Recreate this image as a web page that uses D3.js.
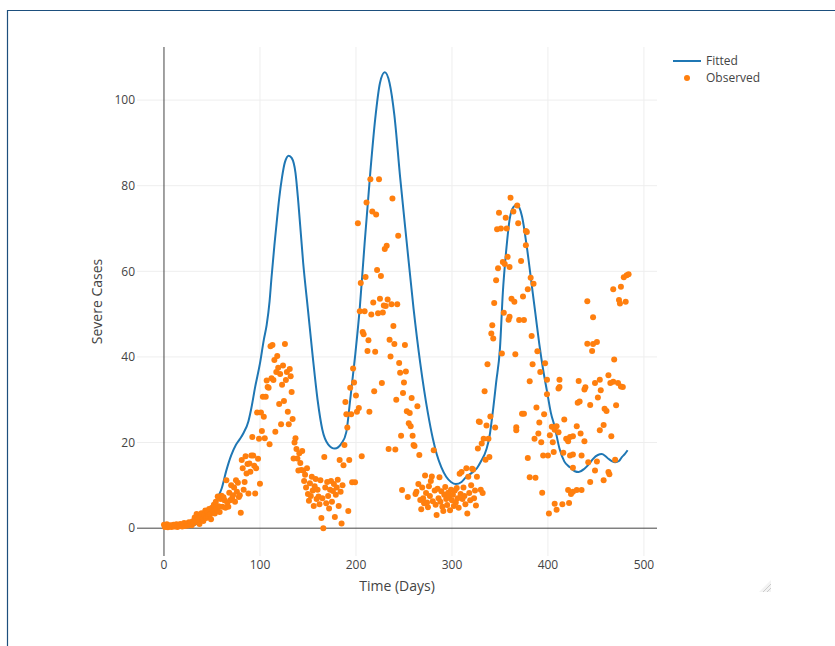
<!DOCTYPE html>
<html>
<head>
<meta charset="utf-8">
<script src="https://cdn.jsdelivr.net/npm/d3@7"></script>
<style>
    body { margin: 0; background: #fff; }
    svg text { font-family: "Open Sans", verdana, arial, sans-serif; fill: #444; }
</style>
</head>
<body>
<svg id="chart" width="835" height="646"></svg>
<script>
// fitted model curve (day, severe cases)
const fittedDays = [0, 10, 20, 30, 35, 41, 46, 51, 56, 60, 65, 70, 75, 79, 83, 88, 91, 95, 100, 104,
    107, 110, 112, 115, 117, 120, 123, 126, 130, 133, 137, 140, 145, 150, 155, 160, 165, 171, 178, 185,
    190, 194, 199, 204, 209, 215, 220, 225, 230, 235, 240, 246, 253, 260, 267, 275, 280, 284,
    289, 294, 299, 304, 310, 315, 320, 326, 330, 336, 339, 343, 346, 350, 353, 357, 360, 364, 368, 370,
    373, 378, 383, 387, 391, 395, 399, 403, 407, 412, 417, 423, 428, 432, 438, 443, 447, 452, 456, 460,
    463, 467, 470, 474, 477, 480, 483];
const fittedCases = [0.2, 0.3, 0.4, 0.6, 1.2, 2.6, 3.9, 5.4, 7.2, 9.2, 13.5, 17, 19.5, 20.8, 22.3, 25, 28, 33, 38.5, 44,
    47.5, 53, 58.5, 66, 70.5, 77, 82, 85.5, 87, 86.5, 83, 76, 62, 51, 40, 30, 23, 19.6, 18.6, 19.8,
    22.5, 30, 40, 51.5, 66.5, 83.3, 95.5, 104, 106.5, 104, 96.5, 82, 66.5, 51.3, 38.5, 26.8, 21, 17.4,
    14.2, 12, 10.8, 10.3, 10.8, 12, 12.8, 14, 15.5, 18.5, 21.3, 28, 34, 42, 55, 66, 72, 75, 75.6, 75,
    72.8, 65.7, 57, 50, 43, 37, 32, 27, 23.7, 18.6, 15.6, 14.2, 13.3, 13.1, 13.9, 15, 16.2, 17.1, 17.3, 16.8,
    16.2, 15.6, 15.4, 15.7, 16.6, 17.3, 18.2];

// observed data points (day, severe cases)
const obsDays = [
    0, 1, 2, 3, 4, 5, 6, 7, 8, 9, 10, 11, 12, 13, 14, 15, 16, 17, 18, 19,
    20, 21, 22, 23, 24, 25, 26, 27, 28, 29, 30, 31, 32, 33, 34, 35, 36, 37, 38, 39,
    40, 41, 42, 43, 44, 45, 46, 47, 48, 49, 50, 51, 52, 53, 54, 55, 56, 57, 58, 59,
    60, 61, 62, 63, 64, 65, 66, 67, 68, 69, 70, 71, 72, 73, 74, 75, 76, 77, 78, 79,
    80, 81, 82, 83, 84, 85, 86, 87, 88, 89, 90, 91, 92, 93, 94, 95, 96, 97, 98, 99,
    100, 101, 102, 103, 104, 105, 106, 107, 108, 109, 110, 111, 112, 113, 114, 115, 116, 117, 118, 119,
    120, 121, 122, 123, 124, 125, 126, 127, 128, 129, 130, 131, 132, 133, 134, 135, 136, 137, 138, 139,
    140, 141, 142, 143, 144, 145, 146, 147, 148, 149, 150, 151, 152, 153, 154, 155, 156, 157, 158, 159,
    160, 161, 162, 163, 164, 165, 166, 167, 168, 169, 170, 171, 172, 173, 174, 175, 176, 177, 178, 179,
    180, 181, 182, 183, 184, 185, 186, 187, 188, 189, 190, 191, 192, 193, 194, 195, 196, 197, 198, 199,
    200, 201, 202, 203, 204, 205, 206, 207, 208, 209, 210, 211, 212, 213, 214, 215, 216, 217, 218, 219,
    220, 221, 222, 223, 224, 225, 226, 227, 228, 229, 230, 231, 232, 233, 234, 235, 236, 237, 238, 239,
    240, 241, 242, 243, 244, 245, 246, 247, 248, 249, 250, 251, 252, 253, 254, 255, 256, 257, 258, 259,
    260, 261, 262, 263, 264, 265, 266, 267, 268, 269, 270, 271, 272, 273, 274, 275, 276, 277, 278, 279,
    280, 281, 282, 283, 284, 285, 286, 287, 288, 289, 290, 291, 292, 293, 294, 295, 296, 297, 298, 299,
    300, 301, 302, 303, 304, 305, 306, 307, 308, 309, 310, 311, 312, 313, 314, 315, 316, 317, 318, 319,
    320, 321, 322, 323, 324, 325, 326, 327, 328, 329, 330, 331, 332, 333, 334, 335, 336, 337, 338, 339,
    340,
    341, 342, 343, 344, 345, 346, 347, 348, 349, 351, 352, 353, 354, 355, 356, 357, 358, 359, 360, 360,
    361, 362, 364, 365, 366, 367, 367, 368, 369, 370, 372, 373, 374, 375, 375, 377, 377, 378, 379, 379,
    381, 381, 382, 383, 384, 385, 386, 387, 388, 389, 390, 391, 392, 393, 394, 395, 396, 397, 399, 399,
    400, 401, 402, 404, 405, 406, 407, 407, 409, 409, 411, 411, 412, 412, 415, 416, 417, 419, 421, 421,
    422, 423, 423, 424, 426, 426, 426, 426, 430, 430, 431, 432, 433, 434, 435, 435, 438, 438, 439, 441,
    441, 442, 444, 444, 446, 447, 447, 449, 449, 451, 451, 452, 454, 454, 455, 458, 458, 459, 461, 463,
    463, 464, 465, 466, 468, 468, 469, 470, 471, 473, 474, 475, 476, 476, 478, 479, 481, 482, 484];
const obsCases = [
    0.8, 0.3, 0.5, 0.9, 0.2, 0.6, 0.4, 0.7, 0.3, 0.5, 0.8, 0.4, 0.6, 0.9, 0.3, 0.7, 0.5, 1.0, 0.6, 0.4,
    0.9, 1.2, 0.5, 0.8, 1.1, 0.6, 1.4, 0.9, 1.3, 0.7, 1.6, 1.2, 2.5, 1.8, 3.3, 1.5, 2.2, 1.0, 2.8, 3.5,
    2.0, 1.7, 3.0, 4.1, 2.4, 3.6, 2.9, 4.5, 3.2, 2.1, 4.8, 3.9, 5.5, 3.4, 6.2, 4.4, 7.4, 5.1, 3.8, 6.8,
    7.6, 5.0, 7.2, 6.5, 4.8, 11.2, 6.0, 5.0, 8.3, 6.5, 10.0, 7.0, 7.7, 9.5, 6.2, 11.2, 8.5, 10.6, 7.3, 7.7,
    3.6, 15.9, 14.0, 9.0, 10.8, 16.8, 12.8, 15.0, 8.1, 15.1, 13.2, 17.0, 21.3, 17.0, 14.6, 8.1, 14.0, 27.0, 16.2, 20.9,
    10.4, 27.0, 22.7, 30.7, 26.0, 21.0, 30.7, 34.5, 33.0, 32.8, 19.6, 42.5, 35.0, 42.8, 34.6, 39.3, 22.5, 36.5, 40.2, 37.5,
    29.0, 36.0, 24.3, 33.5, 38.0, 29.7, 43.0, 34.6, 36.5, 27.2, 24.3, 37.2, 35.5, 31.8, 25.5, 16.3, 20.0, 21.0, 18.5, 16.3,
    13.5, 17.5, 15.2, 13.6, 18.0, 13.5, 11.0, 12.5, 9.5, 14.0, 8.0, 6.4, 10.5, 7.5, 12.0, 8.8, 5.2, 9.8, 11.5, 6.8,
    9.0, 7.4, 5.6, 11.2, 2.4, 7.0, 0.0, 16.6, 9.5, 5.8, 10.8, 7.5, 4.6, 9.0, 11.0, 6.2, 8.7, 10.3, 2.6, 7.8,
    9.5, 11.3, 5.2, 15.9, 8.5, 1.1, 10.0, 14.7, 19.4, 29.5, 26.6, 23.5, 4.0, 15.9, 32.8, 26.6, 10.7, 37.3, 34.0, 10.7,
    31.0, 27.2, 71.2, 28.1, 50.7, 57.3, 16.8, 45.8, 45.3, 50.7, 58.7, 76.1, 41.4, 43.9, 27.2, 81.5, 49.9, 74.0, 52.7, 32.0,
    41.2, 73.3, 60.3, 50.2, 81.5, 53.6, 58.9, 33.9, 50.4, 52.0, 65.2, 51.9, 66.0, 53.4, 18.5, 44.0, 40.1, 52.3, 77.0, 47.2,
    43.0, 18.4, 30.0, 52.3, 68.3, 38.6, 36.3, 21.6, 8.9, 31.6, 34.0, 42.8, 36.6, 27.3, 7.3, 24.5, 26.9, 23.8, 30.4, 21.6,
    19.4, 19.2, 8.0, 8.5, 28.5, 10.3, 17.1, 6.6, 4.4, 9.5, 7.0, 5.8, 12.3, 8.2, 6.0, 4.9, 9.8, 7.5, 11.0, 12.1,
    6.3, 18.2, 8.8, 5.5, 3.1, 9.2, 7.0, 11.9, 6.2, 8.6, 5.0, 4.0, 7.8, 9.6, 6.8, 5.4, 8.3, 7.2, 4.2, 9.0,
    6.5, 7.8, 5.2, 8.8, 6.0, 9.4, 7.0, 4.8, 12.7, 8.0, 13.1, 6.8, 9.5, 7.5, 5.6, 14.0, 3.4, 12.0, 8.2, 6.5,
    10.0, 13.9, 13.7, 7.0, 8.8, 5.3, 12.0, 18.6, 24.9, 24.8, 9.0, 19.8, 8.2, 20.9, 32.0, 16.0, 24.0, 38.3, 20.9, 16.6,
    26.1,
    45.5, 47.4, 44.3, 52.6, 23.5, 57.9, 69.8, 60.7, 73.7, 70.0, 40.8, 62.2, 50.3, 61.7, 72.5, 70.0, 63.4, 48.7, 49.4, 61.0,
    77.2, 53.6, 74.0, 52.9, 40.6, 23.6, 22.9, 75.4, 71.2, 48.6, 62.4, 26.7, 54.1, 48.6, 26.7, 69.4, 66.1, 69.2, 55.8, 16.4,
    34.3, 11.9, 58.5, 44.9, 38.3, 57.1, 20.9, 11.8, 28.2, 41.3, 22.1, 24.7, 36.5, 20.1, 8.3, 17.0, 26.6, 38.5, 34.7, 31.3,
    17.0, 3.4, 21.7, 23.7, 20.1, 17.8, 5.7, 23.0, 4.3, 23.8, 22.4, 32.6, 34.7, 33.0, 5.6, 17.6, 25.4, 20.9, 8.9, 20.3,
    5.9, 21.3, 17.0, 8.0, 8.5, 14.1, 21.5, 17.2, 8.9, 23.8, 29.3, 34.4, 29.6, 22.1, 8.9, 17.0, 20.3, 32.4, 32.9, 53.0,
    43.1, 15.4, 10.8, 28.8, 41.4, 49.3, 43.0, 13.5, 33.9, 15.6, 43.5, 30.5, 22.9, 34.7, 32.2, 11.2, 24.1, 27.9, 27.4, 13.1,
    35.7, 12.6, 33.9, 21.5, 34.2, 55.8, 39.4, 16.0, 28.7, 33.9, 53.3, 52.5, 33.1, 56.4, 33.0, 58.6, 52.9, 59.1, 59.3];

const xTicks = [0, 100, 200, 300, 400, 500];
const yTicks = [0, 20, 40, 60, 80, 100];
const seriesNames = ['Fitted', 'Observed'];

const lineColor = '#1f77b4';
const dotColor = '#ff7f0e';

const plot = { left: 137, right: 657, top: 47, bottom: 556 };

const svg = d3.select('#chart');

// page frame
svg.append('path')
    .attr('d', 'M835,10.5H7.5V646')
    .attr('fill', 'none')
    .attr('stroke', '#1d4f7d')
    .attr('stroke-width', 1.2);

const x = d3.scaleLinear().domain([-28.1, 513.6]).range([plot.left, plot.right]);
const y = d3.scaleLinear().domain([-6.5, 112.4]).range([plot.bottom, plot.top]);

// grid
svg.append('g')
    .selectAll('line')
    .data(xTicks.filter(d => d !== 0))
    .enter().append('line')
    .attr('x1', d => x(d)).attr('x2', d => x(d))
    .attr('y1', plot.top).attr('y2', plot.bottom)
    .attr('stroke', '#eee').attr('stroke-width', 1);

svg.append('g')
    .selectAll('line')
    .data(yTicks.filter(d => d !== 0))
    .enter().append('line')
    .attr('x1', plot.left).attr('x2', plot.right)
    .attr('y1', d => y(d)).attr('y2', d => y(d))
    .attr('stroke', '#eee').attr('stroke-width', 1);

// zero lines
svg.append('line')
    .attr('x1', x(0)).attr('x2', x(0))
    .attr('y1', plot.top).attr('y2', plot.bottom)
    .attr('stroke', '#444').attr('stroke-width', 1);
svg.append('line')
    .attr('x1', plot.left).attr('x2', plot.right)
    .attr('y1', y(0)).attr('y2', y(0))
    .attr('stroke', '#444').attr('stroke-width', 1);

// tick labels
svg.append('g')
    .selectAll('text')
    .data(xTicks)
    .enter().append('text')
    .attr('x', d => x(d))
    .attr('y', 565)
    .attr('dy', '0.35em')
    .attr('text-anchor', 'middle')
    .style('font-size', '12px')
    .text(d => d);

svg.append('g')
    .selectAll('text')
    .data(yTicks)
    .enter().append('text')
    .attr('x', 135)
    .attr('y', d => y(d))
    .attr('dy', '0.35em')
    .attr('text-anchor', 'end')
    .style('font-size', '12px')
    .text(d => d);

// axis titles
svg.append('text')
    .attr('x', (plot.left + plot.right) / 2)
    .attr('y', 586)
    .attr('dy', '0.35em')
    .attr('text-anchor', 'middle')
    .style('font-size', '14px')
    .text('Time (Days)');

svg.append('text')
    .attr('transform', 'translate(97,' + (plot.top + plot.bottom) / 2 + ') rotate(-90)')
    .attr('dy', '0.35em')
    .attr('text-anchor', 'middle')
    .style('font-size', '14px')
    .text('Severe Cases');

// fitted curve
const line = d3.line()
    .x(i => x(fittedDays[i]))
    .y(i => y(fittedCases[i]))
    .curve(d3.curveMonotoneX);

svg.append('path')
    .attr('d', line(d3.range(fittedDays.length)))
    .attr('fill', 'none')
    .attr('stroke', lineColor)
    .attr('stroke-width', 2);

// observed points
svg.append('g')
    .selectAll('circle')
    .data(d3.range(obsDays.length))
    .enter().append('circle')
    .attr('cx', i => x(obsDays[i]))
    .attr('cy', i => y(obsCases[i]))
    .attr('r', 3)
    .attr('fill', dotColor);

// legend
const legend = svg.append('g').attr('transform', 'translate(673,0)');
legend.append('line')
    .attr('x1', 0).attr('x2', 28)
    .attr('y1', 61).attr('y2', 61)
    .attr('stroke', lineColor).attr('stroke-width', 2);
legend.append('circle')
    .attr('cx', 14).attr('cy', 78).attr('r', 3)
    .attr('fill', dotColor);
legend.selectAll('text.lbl')
    .data(seriesNames)
    .enter().append('text')
    .attr('class', 'lbl')
    .attr('x', 33)
    .attr('y', (d, i) => 61 + i * 17)
    .attr('dy', '0.35em')
    .style('font-size', '12px')
    .text(d => d);

// resize handle
const grip = svg.append('g').attr('transform', 'translate(759,580)');
grip.append('path')
    .attr('d', 'M12,0L12,12L0,12Z')
    .attr('fill', '#f3f3f3');
[4, 8].forEach(o => {
    grip.append('line')
        .attr('x1', 12 - o).attr('y1', 12)
        .attr('x2', 12).attr('y2', 12 - o)
        .attr('stroke', '#ccc').attr('stroke-width', 1);
});
</script>
</body>
</html>
